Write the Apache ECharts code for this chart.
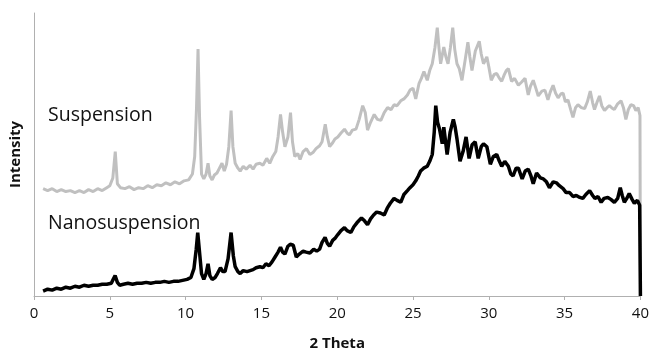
<!DOCTYPE html>
<html>
<head>
<meta charset="utf-8">
<script src="https://cdn.jsdelivr.net/npm/echarts@6/dist/echarts.min.js"></script>
<style>
  html, body { margin: 0; padding: 0; background: #fff; }
  #chart { width: 652px; height: 356px; }
</style>
</head>
<body>
<div id="chart"></div>
<script>
// Suspension (grey trace), 2 theta vs intensity (a.u.)
const susTheta = [
  0.6, 0.9, 1.2, 1.5, 1.8, 2.1, 2.4, 2.7, 3.0, 3.3, 3.6, 3.9, 4.2, 4.5, 4.8, 5.0, 5.2, 5.36, 5.5, 5.7,
  6.0, 6.3, 6.6, 6.9, 7.2, 7.5, 7.8, 8.1, 8.4, 8.7, 9.0, 9.3, 9.6, 9.9, 10.2, 10.45, 10.6, 10.72, 10.82, 10.92,
  11.05, 11.2, 11.35, 11.48, 11.6, 11.75, 11.9, 12.07, 12.2, 12.4, 12.55, 12.7, 12.85, 13.0, 13.12, 13.27, 13.45, 13.6, 13.8, 14.0,
  14.25, 14.45, 14.65, 14.9, 15.1, 15.35, 15.55, 15.75, 15.95, 16.1, 16.26, 16.4, 16.55, 16.75, 16.92, 17.05, 17.2, 17.4, 17.55, 17.75,
  17.97, 18.2, 18.4, 18.6, 18.84, 19.0, 19.21, 19.35, 19.5, 19.7, 19.85, 20.04, 20.25, 20.48, 20.65, 20.8, 21.0, 21.24, 21.45, 21.68,
  21.85, 22.0, 22.2, 22.44, 22.65, 22.88, 23.1, 23.32, 23.55, 23.75, 23.95, 24.19, 24.4, 24.63, 24.8, 25.0, 25.18, 25.4, 25.55, 25.72,
  25.94, 26.1, 26.27, 26.45, 26.6, 26.72, 26.82, 27.03, 27.17, 27.31, 27.47, 27.62, 27.75, 27.9, 28.05, 28.23, 28.45, 28.62, 28.75, 28.89,
  29.0, 29.11, 29.37, 29.5, 29.65, 29.87, 30.0, 30.16, 30.35, 30.52, 30.7, 30.85, 31.0, 31.15, 31.29, 31.5, 31.7, 31.95, 32.15, 32.39,
  32.6, 32.75, 32.93, 33.1, 33.26, 33.5, 33.7, 33.9, 34.05, 34.24, 34.4, 34.57, 34.75, 34.9, 35.05, 35.22, 35.4, 35.55, 35.72, 35.88,
  36.1, 36.32, 36.5, 36.69, 36.85, 36.97, 37.15, 37.3, 37.45, 37.63, 37.8, 37.95, 38.1, 38.28, 38.5, 38.72, 38.88, 39.04, 39.2, 39.37,
  39.55, 39.7, 39.85, 39.97, 40.0
];
const susIntensity = [
  110, 108, 110, 107, 109, 107, 108, 106, 108, 106, 109, 107, 110, 108, 111, 113, 121, 148, 115, 111,
  110, 112, 109, 111, 110, 113, 111, 114, 113, 116, 114, 117, 115, 118, 119, 125, 143, 193, 253, 183,
  125, 120, 125, 136, 123, 119, 124, 126, 130, 136, 128, 135, 153, 190, 153, 136, 131, 128, 133, 130,
  134, 130, 135, 136, 134, 141, 136, 143, 148, 163, 186, 168, 153, 163, 188, 158, 143, 146, 140, 148,
  151, 145, 147, 151, 154, 158, 176, 163, 153, 157, 161, 163, 167, 171, 167, 165, 170, 171, 181, 195,
  188, 170, 178, 186, 181, 180, 188, 193, 191, 196, 195, 200, 202, 206, 211, 213, 202, 218, 223, 230,
  221, 231, 238, 255, 275, 253, 238, 255, 245, 238, 255, 275, 253, 238, 233, 221, 243, 260, 245, 231,
  241, 251, 261, 248, 238, 245, 235, 221, 227, 228, 223, 220, 226, 231, 233, 220, 223, 216, 219, 223,
  206, 215, 221, 213, 205, 210, 211, 201, 209, 216, 208, 203, 207, 208, 199, 201, 191, 183, 193, 196,
  193, 192, 199, 210, 198, 191, 199, 205, 195, 190, 193, 195, 193, 191, 197, 200, 193, 181, 191, 196,
  195, 190, 193, 185, 0
];

// Nanosuspension (black trace)
const nanoTheta = [
  0.6, 0.9, 1.2, 1.5, 1.8, 2.1, 2.4, 2.7, 3.0, 3.3, 3.6, 3.9, 4.2, 4.5, 4.8, 5.1, 5.25, 5.35, 5.5, 5.65,
  5.9, 6.2, 6.5, 6.8, 7.1, 7.4, 7.7, 8.0, 8.3, 8.6, 8.9, 9.2, 9.5, 9.8, 10.1, 10.35, 10.55, 10.7, 10.8, 10.9,
  11.05, 11.2, 11.35, 11.48, 11.6, 11.75, 11.95, 12.1, 12.3, 12.45, 12.6, 12.8, 13.0, 13.15, 13.27, 13.45, 13.6, 13.8, 14.05, 14.25,
  14.45, 14.65, 14.9, 15.1, 15.3, 15.5, 15.7, 15.9, 16.1, 16.26, 16.4, 16.55, 16.75, 16.9, 17.1, 17.3, 17.5, 17.75, 17.95, 18.2,
  18.45, 18.65, 18.84, 19.0, 19.2, 19.35, 19.5, 19.7, 19.85, 20.04, 20.25, 20.48, 20.65, 20.9, 21.1, 21.3, 21.6, 21.8, 22.0, 22.2,
  22.4, 22.6, 22.85, 23.1, 23.3, 23.5, 23.75, 23.95, 24.19, 24.4, 24.63, 24.8, 25.0, 25.18, 25.35, 25.5, 25.7, 25.94, 26.1, 26.27,
  26.4, 26.5, 26.62, 26.75, 26.93, 27.03, 27.15, 27.25, 27.45, 27.66, 27.78, 27.9, 28.1, 28.3, 28.5, 28.7, 28.9, 29.1, 29.3, 29.5,
  29.65, 29.87, 30.1, 30.3, 30.52, 30.7, 30.85, 31.05, 31.29, 31.45, 31.6, 31.8, 31.95, 32.2, 32.4, 32.6, 32.78, 32.93, 33.15, 33.4,
  33.6, 33.8, 34.0, 34.25, 34.46, 34.65, 34.9, 35.1, 35.33, 35.55, 35.77, 36.0, 36.2, 36.4, 36.65, 36.85, 37.0, 37.2, 37.41, 37.6,
  37.85, 38.05, 38.28, 38.5, 38.67, 38.8, 38.94, 39.1, 39.26, 39.45, 39.6, 39.8, 39.95, 40.0
];
const nanoIntensity = [
  5, 7, 6, 8, 7, 9, 8, 10, 9, 11, 10, 11, 11, 12, 12, 13, 18, 21, 14, 11,
  12, 13, 12, 13, 13, 14, 13, 14, 14, 15, 14, 15, 15, 16, 17, 19, 28, 48, 65, 48,
  23, 17, 23, 33, 21, 17, 19, 23, 29, 25, 25, 38, 65, 41, 30, 25, 23, 26, 25, 26,
  27, 29, 30, 29, 33, 31, 35, 40, 45, 50, 45, 43, 51, 53, 52, 40, 43, 46, 45, 44,
  48, 46, 48, 55, 60, 54, 51, 57, 59, 63, 67, 70, 67, 65, 71, 75, 80, 77, 73, 79,
  83, 86, 85, 83, 90, 95, 100, 98, 96, 104, 108, 111, 114, 118, 123, 128, 131, 133, 138, 145,
  168, 195, 178, 171, 156, 173, 158, 145, 168, 181, 173, 161, 138, 148, 163, 141, 155, 158, 141, 153,
  156, 153, 135, 143, 145, 138, 133, 138, 133, 125, 123, 131, 131, 120, 128, 130, 123, 115, 126, 121,
  120, 117, 111, 117, 116, 113, 110, 106, 106, 102, 103, 101, 100, 104, 108, 103, 100, 102, 96, 100,
  101, 99, 96, 100, 111, 103, 96, 100, 105, 99, 95, 98, 93, 0
];

const xTicks = { min: 0, max: 40, interval: 5 };

const chart = echarts.init(document.getElementById('chart'));
const pairs = (xs, ys) => xs.map((x, i) => [x, ys[i]]);

chart.setOption({
  animation: false,
  grid: { left: 33, right: 9, top: 13, bottom: 54 },
  xAxis: {
    type: 'value',
    min: xTicks.min,
    max: xTicks.max,
    interval: xTicks.interval,
    name: '2 Theta',
    nameLocation: 'middle',
    nameGap: 40,
    nameTextStyle: { fontFamily: 'Open Sans', fontSize: 15, fontWeight: 'bold', color: '#111' },
    axisLine: { lineStyle: { color: '#b0b0b0', width: 1 } },
    axisTick: { show: true, length: 4, lineStyle: { color: '#b0b0b0' } },
    axisLabel: { fontFamily: 'Open Sans', fontSize: 15, color: '#111', margin: 10 },
    splitLine: { show: false }
  },
  yAxis: {
    type: 'value',
    min: 0,
    max: 290,
    name: 'Intensity',
    nameLocation: 'middle',
    nameGap: 11,
    nameTextStyle: { fontFamily: 'Open Sans', fontSize: 15, fontWeight: 'bold', color: '#111' },
    axisLine: { show: true, lineStyle: { color: '#b0b0b0', width: 1 } },
    axisTick: { show: false },
    axisLabel: { show: false },
    splitLine: { show: false }
  },
  graphic: [
    {
      type: 'text',
      left: 48,
      top: 105,
      style: { text: 'Suspension', font: '19.5px "Open Sans"', fill: '#111' }
    },
    {
      type: 'text',
      left: 48,
      top: 213,
      style: { text: 'Nanosuspension', font: '19.5px "Open Sans"', fill: '#111' }
    }
  ],
  series: [
    {
      name: 'Suspension',
      type: 'line',
      data: pairs(susTheta, susIntensity),
      showSymbol: false,
      lineStyle: { color: '#c0c0c0', width: 3 },
      z: 2
    },
    {
      name: 'Nanosuspension',
      type: 'line',
      data: pairs(nanoTheta, nanoIntensity),
      showSymbol: false,
      lineStyle: { color: '#000000', width: 3.5 },
      z: 3
    }
  ]
});
</script>
</body>
</html>
